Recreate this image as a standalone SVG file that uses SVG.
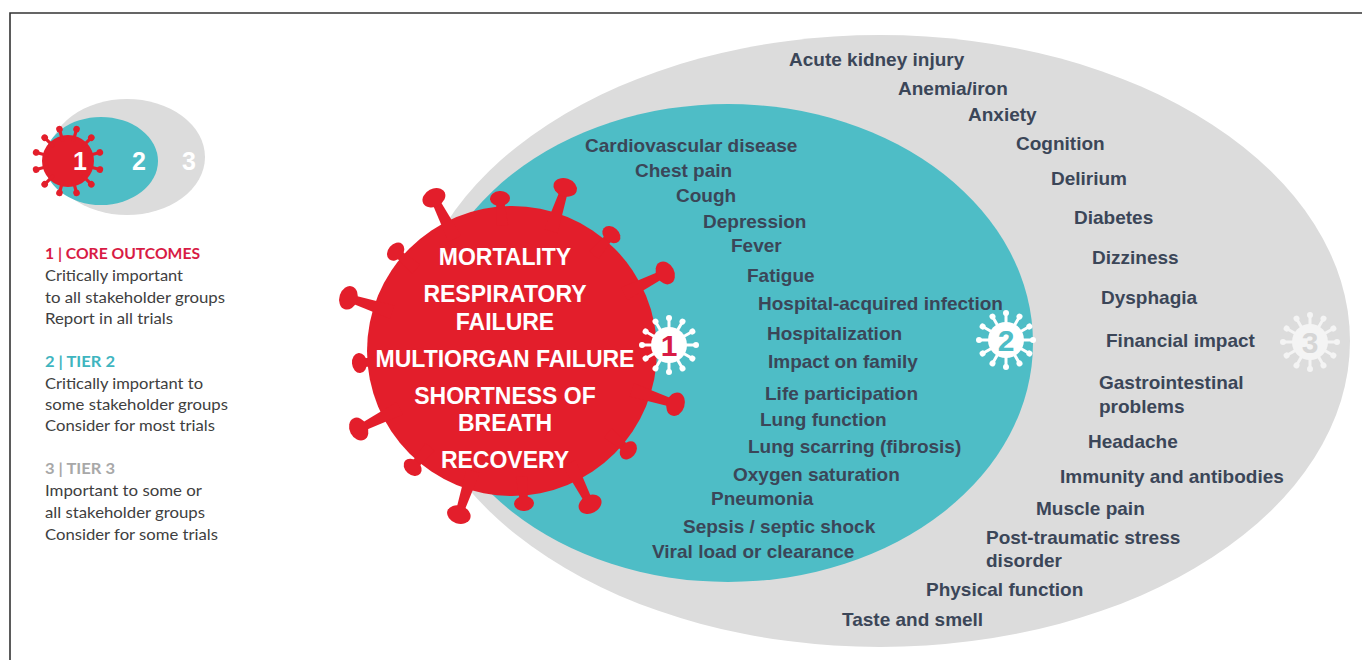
<svg xmlns="http://www.w3.org/2000/svg" xmlns:xlink="http://www.w3.org/1999/xlink" width="1362" height="660" viewBox="0 0 1362 660">
<style>
.o{font-family:"Liberation Sans",Arial,sans-serif;font-weight:bold;font-size:19px;fill:#3b4658}
.c{font-family:"Liberation Sans",Arial,sans-serif;font-weight:bold;font-size:23px;fill:#ffffff;text-anchor:middle}
.lg{font-family:Lato,"Open Sans",sans-serif;font-size:16px;fill:#404040}
.lgt{font-family:Lato,"Open Sans",sans-serif;font-size:16px;font-weight:bold}
.num{font-family:"Liberation Sans",Arial,sans-serif;font-weight:bold;text-anchor:middle}
.red{fill:#e31e2b}
.teal{fill:#4ebdc6}
.gray{fill:#dcdcdc}
</style>
<defs>
  <g id="spL"><path d="M126,-7 L168,-4 L168,4 L126,7 Z"/><ellipse cx="172" cy="0" rx="9" ry="12"/></g>
  <g id="spS"><path d="M126,-6 L150,-4 L150,4 L126,6 Z"/><ellipse cx="153" cy="0" rx="7.5" ry="10"/></g>
  <g id="msp"><rect x="20" y="-1.6" width="12" height="3.2"/><circle cx="33" cy="0" r="3.3"/></g>
  <g id="isp"><rect x="15" y="-1.5" width="11" height="3"/><circle cx="27" cy="0" r="3"/></g>
  <g id="icon">
    <circle r="18"/>
    <use href="#isp" transform="rotate(0)"/><use href="#isp" transform="rotate(30)"/><use href="#isp" transform="rotate(60)"/>
    <use href="#isp" transform="rotate(90)"/><use href="#isp" transform="rotate(120)"/><use href="#isp" transform="rotate(150)"/>
    <use href="#isp" transform="rotate(180)"/><use href="#isp" transform="rotate(210)"/><use href="#isp" transform="rotate(240)"/>
    <use href="#isp" transform="rotate(270)"/><use href="#isp" transform="rotate(300)"/><use href="#isp" transform="rotate(330)"/>
  </g>
</defs>
<rect width="1362" height="660" fill="#ffffff"/>
<path d="M10,660 V13 H1362" fill="none" stroke="#333333" stroke-width="1.6"/>

<g id="legend">
  <g id="legend-icon">
    <ellipse cx="127" cy="157" rx="78" ry="58" class="gray"/>
    <ellipse cx="101" cy="161" rx="57" ry="44" class="teal"/>
    <g class="red" transform="translate(68,161)">
      <circle r="26"/>
      <use href="#msp" transform="rotate(15)"/><use href="#msp" transform="rotate(45)"/><use href="#msp" transform="rotate(75)"/>
      <use href="#msp" transform="rotate(105)"/><use href="#msp" transform="rotate(135)"/><use href="#msp" transform="rotate(165)"/>
      <use href="#msp" transform="rotate(195)"/><use href="#msp" transform="rotate(225)"/><use href="#msp" transform="rotate(255)"/>
      <use href="#msp" transform="rotate(285)"/><use href="#msp" transform="rotate(315)"/><use href="#msp" transform="rotate(345)"/>
    </g>
    <text x="80" y="170" class="num" font-size="25" fill="#ffffff">1</text>
    <text x="139" y="170" class="num" font-size="25" fill="#ffffff">2</text>
    <text x="189" y="170" class="num" font-size="25" fill="#ffffff">3</text>
  </g>
  <g id="legend-core">
    <text x="45" y="259" class="lgt" fill="#d81b45" textLength="155" lengthAdjust="spacingAndGlyphs">1 | CORE OUTCOMES</text>
    <text x="45" y="281" class="lg" textLength="138" lengthAdjust="spacingAndGlyphs">Critically important</text>
    <text x="45" y="303" class="lg" textLength="180" lengthAdjust="spacingAndGlyphs">to all stakeholder groups</text>
    <text x="45" y="324" class="lg" textLength="128" lengthAdjust="spacingAndGlyphs">Report in all trials</text>
  </g>
  <g id="legend-tier2">
    <text x="45" y="367" class="lgt" fill="#3fb5bf" textLength="70" lengthAdjust="spacingAndGlyphs">2 | TIER 2</text>
    <text x="45" y="389" class="lg" textLength="158" lengthAdjust="spacingAndGlyphs">Critically important to</text>
    <text x="45" y="410" class="lg" textLength="183" lengthAdjust="spacingAndGlyphs">some stakeholder groups</text>
    <text x="45" y="431" class="lg" textLength="170" lengthAdjust="spacingAndGlyphs">Consider for most trials</text>
  </g>
  <g id="legend-tier3">
    <text x="45" y="474" class="lgt" fill="#a8a8a8" textLength="70" lengthAdjust="spacingAndGlyphs">3 | TIER 3</text>
    <text x="45" y="496" class="lg" textLength="157" lengthAdjust="spacingAndGlyphs">Important to some or</text>
    <text x="45" y="518" class="lg" textLength="160" lengthAdjust="spacingAndGlyphs">all stakeholder groups</text>
    <text x="45" y="540" class="lg" textLength="173" lengthAdjust="spacingAndGlyphs">Consider for some trials</text>
  </g>
</g>

<g id="tier3">
  <ellipse cx="880" cy="341" rx="470" ry="306" class="gray"/>
  <g transform="translate(1310,342)" fill="#f4f4f4"><use href="#icon"/></g>
  <text x="1310" y="353" class="num" font-size="30" fill="#d6d6d6">3</text>
  <text x="789" y="66" class="o">Acute kidney injury</text>
  <text x="898" y="95" class="o">Anemia/iron</text>
  <text x="968" y="121" class="o">Anxiety</text>
  <text x="1016" y="150" class="o">Cognition</text>
  <text x="1051" y="185" class="o">Delirium</text>
  <text x="1074" y="224" class="o">Diabetes</text>
  <text x="1092" y="264" class="o">Dizziness</text>
  <text x="1101" y="304" class="o">Dysphagia</text>
  <text x="1106" y="347" class="o">Financial impact</text>
  <text x="1099" y="389" class="o">Gastrointestinal</text>
  <text x="1099" y="413" class="o">problems</text>
  <text x="1088" y="448" class="o">Headache</text>
  <text x="1060" y="483" class="o">Immunity and antibodies</text>
  <text x="1036" y="515" class="o">Muscle pain</text>
  <text x="986" y="544" class="o">Post-traumatic stress</text>
  <text x="986" y="567" class="o">disorder</text>
  <text x="926" y="596" class="o">Physical function</text>
  <text x="842" y="626" class="o">Taste and smell</text>
</g>

<g id="tier2">
  <ellipse cx="728" cy="343" rx="305" ry="239" class="teal"/>
  <g transform="translate(1006,340)" fill="#ffffff"><use href="#icon"/></g>
  <text x="1006" y="351" class="num" font-size="30" fill="#4ebdc6">2</text>
  <text x="585" y="152" class="o">Cardiovascular disease</text>
  <text x="635" y="177" class="o">Chest pain</text>
  <text x="676" y="202" class="o">Cough</text>
  <text x="703" y="228" class="o">Depression</text>
  <text x="731" y="252" class="o">Fever</text>
  <text x="747" y="282" class="o">Fatigue</text>
  <text x="758" y="310" class="o">Hospital-acquired infection</text>
  <text x="767" y="340" class="o">Hospitalization</text>
  <text x="768" y="368" class="o">Impact on family</text>
  <text x="765" y="400" class="o">Life participation</text>
  <text x="760" y="426" class="o">Lung function</text>
  <text x="748" y="453" class="o">Lung scarring (fibrosis)</text>
  <text x="733" y="481" class="o">Oxygen saturation</text>
  <text x="711" y="505" class="o">Pneumonia</text>
  <text x="683" y="533" class="o">Sepsis / septic shock</text>
  <text x="652" y="558" class="o">Viral load or clearance</text>
</g>

<g id="core">
  <g class="red" transform="translate(512,351)">
    <circle r="145"/>
    <use href="#spL" transform="rotate(-117)"/><use href="#spL" transform="rotate(-72)"/>
    <use href="#spL" transform="rotate(-27)"/><use href="#spL" transform="rotate(18)"/>
    <use href="#spL" transform="rotate(63)"/><use href="#spL" transform="rotate(108)"/>
    <use href="#spL" transform="rotate(153)"/><use href="#spL" transform="rotate(198)"/>
    <use href="#spS" transform="rotate(-94.5)"/><use href="#spS" transform="rotate(-49.5)"/>
    <use href="#spS" transform="rotate(40.5)"/><use href="#spS" transform="rotate(85.5)"/>
    <use href="#spS" transform="rotate(130.5)"/><use href="#spS" transform="rotate(175.5)"/>
    <use href="#spS" transform="rotate(220.5)"/>
  </g>
  <g transform="translate(669,345)" fill="#ffffff"><use href="#icon"/></g>
  <text x="669" y="356" class="num" font-size="30" fill="#d81b45">1</text>
  <text x="505" y="265" class="c">MORTALITY</text>
  <text x="505" y="302" class="c">RESPIRATORY</text>
  <text x="505" y="330" class="c">FAILURE</text>
  <text x="505" y="367" class="c">MULTIORGAN FAILURE</text>
  <text x="505" y="404" class="c">SHORTNESS OF</text>
  <text x="505" y="431" class="c">BREATH</text>
  <text x="505" y="468" class="c">RECOVERY</text>
</g>
</svg>
